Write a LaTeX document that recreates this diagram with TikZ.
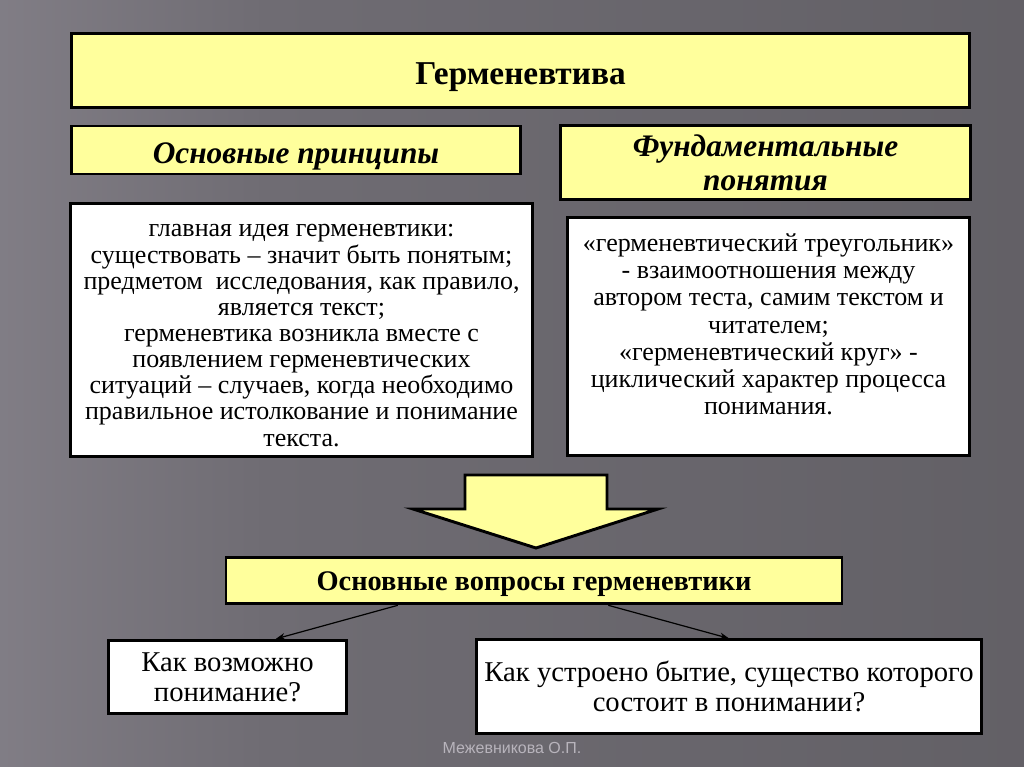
\documentclass[tikz,border=0pt]{standalone}
\usepackage{fontspec}
\setmainfont{Liberation Serif}
\newfontfamily\footfont{Liberation Sans}
\usetikzlibrary{arrows.meta,calc}

\definecolor{paleyellow}{HTML}{FFFF9C}
\definecolor{bgleft}{HTML}{A8A4AC}
\definecolor{bglight}{HTML}{928E97}
\definecolor{bgmid}{HTML}{6F6C73}
\definecolor{bgright}{HTML}{5A585D}
\definecolor{footgray}{HTML}{B8B4BC}
\pgfdeclarehorizontalshading{slidebg}{100bp}{color(0bp)=(bgleft); color(12bp)=(bglight);
  color(38bp)=(bgmid); color(100bp)=(bgright)}

\tikzset{
  box/.style={draw=black, line width=2.2pt, align=center, inner sep=2pt},
  yellowbox/.style={box, fill=paleyellow},
  whitebox/.style={box, fill=white},
  bodytext/.style={font=\fontsize{19.5}{19.6}\selectfont, align=center, anchor=north},
  link/.style={-{Stealth[length=7pt,width=5pt]}, line width=0.9pt}
}

\begin{document}
\begin{tikzpicture}[x=0.75pt,y=-0.75pt]
% background
\useasboundingbox (0,0) rectangle (1024,767);
\shade[shading=slidebg] (0,0) rectangle (1024,767);

% headers
\node[yellowbox, minimum width=674pt, minimum height=56pt, text height=26pt, text depth=5.5pt,
      font=\fontsize{25}{29}\selectfont\bfseries] (herm) at (520.5,70.5) {Герменевтива};
\node[yellowbox, minimum width=337pt, minimum height=36pt, text height=25pt, text depth=5.2pt,
      font=\fontsize{23.5}{26}\selectfont\bfseries\itshape] (princ) at (296,150) {Основные принципы};
\node[yellowbox, minimum width=307pt, minimum height=55pt,
      font=\fontsize{23.5}{25.5}\selectfont\bfseries\itshape] (fund) at (765.5,162.5) {Фундаментальные\\понятия};

% text boxes
\node[whitebox, minimum width=346pt, minimum height=190pt] (left) at (301.5,330) {};
\node[bodytext] (lefttext) at (301.5,220)
  {главная идея герменевтики:\\
   существовать -- значит быть понятым;\\
   предметом\ \ исследования, как правило,\\
   является текст;\\
   герменевтика возникла вместе с\\
   появлением герменевтических\\
   ситуаций -- случаев, когда необходимо\\
   правильное истолкование и понимание\\
   текста.};
\node[whitebox, minimum width=302pt, minimum height=179pt] (right) at (768.5,336.5) {};
\node[bodytext, font=\fontsize{19.5}{20.4}\selectfont] (righttext) at (768.5,229)
  {«герменевтический треугольник»\\
   - взаимоотношения между\\
   автором теста, самим текстом и\\
   читателем;\\
   «герменевтический круг» -\\
   циклический характер процесса\\
   понимания.};

% big arrow
\draw[fill=paleyellow, line width=2.2pt, line join=miter]
  (465,475) -- (607,475) -- (607,509) -- (658,509) -- (536,548)
  -- (413,509) -- (465,509) -- cycle;

% questions
\node[yellowbox, minimum width=462pt, minimum height=35pt, text height=19pt, text depth=4.7pt,
      font=\fontsize{21.3}{24}\selectfont\bfseries] (quest) at (534,580.5) {Основные вопросы герменевтики};
\node[whitebox, minimum width=179pt, minimum height=55pt,
      font=\fontsize{21.5}{22.4}\selectfont] (q1) at (227.5,677) {Как возможно\\понимание?};
\node[whitebox, minimum width=379pt, minimum height=70pt,
      font=\fontsize{21.5}{22.2}\selectfont] (q2) at (729,686.5) {Как устроено бытие, существо которого\\состоит в понимании?};

\draw[link] ($(quest.south west)!0.28!(quest.south east)$) -- ($(q1.north west)!0.70!(q1.north east)$);
\draw[link] ($(quest.south west)!0.62!(quest.south east)$) -- (q2.north);

% footer
\node[font=\footfont\fontsize{12}{14}\selectfont, text=footgray] (author) at (512,748) {Межевникова О.П.};
\end{tikzpicture}
\end{document}
